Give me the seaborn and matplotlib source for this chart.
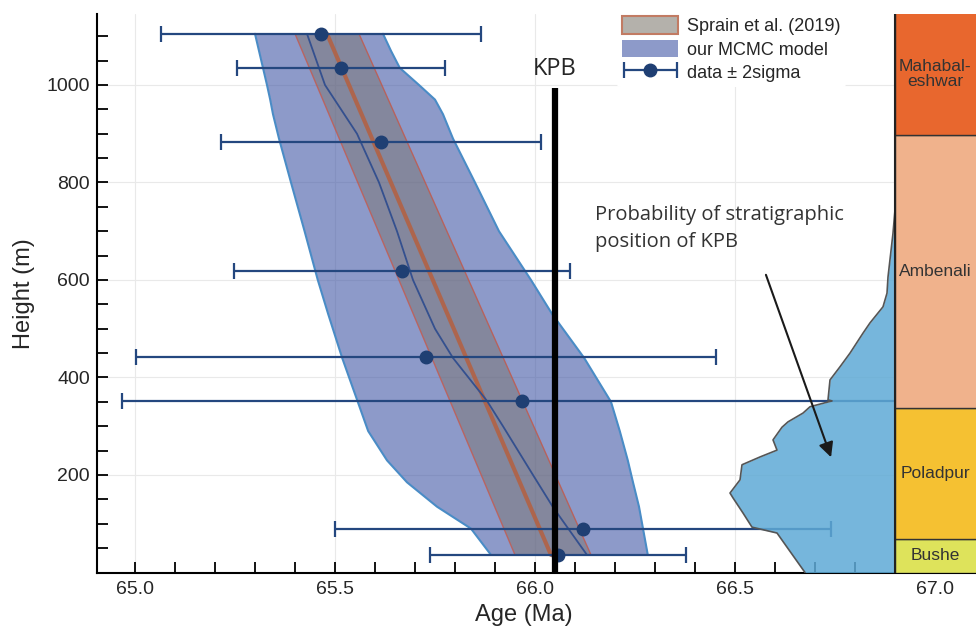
import numpy as np
import pandas as pd
import matplotlib
matplotlib.use("Agg")
import matplotlib.pyplot as plt
import seaborn as sns
from matplotlib.patches import Patch
from matplotlib.ticker import MultipleLocator
from matplotlib.container import ErrorbarContainer
from matplotlib.legend_handler import HandlerErrorbar

# ---------------- data ----------------
data_height = [1105, 1035, 883, 618, 442, 352, 89, 36]
data_age = [65.465, 65.515, 65.615, 65.667, 65.727, 65.967, 66.120, 66.057]
data_err2s = [0.40, 0.26, 0.40, 0.42, 0.725, 1.00, 0.62, 0.32]

sprain_height = [36, 1105]
sprain_mid = [66.04, 65.48]
sprain_lo = [65.95, 65.40]
sprain_hi = [66.14, 65.56]

mcmc_height = [36, 90, 135, 185, 230, 290, 350, 440, 530, 600, 700, 800, 890, 940, 970, 1000, 1035, 1070, 1105]
mcmc_lo = [65.89, 65.84, 65.755, 65.68, 65.63, 65.583, 65.557, 65.518, 65.483, 65.457,
           65.424, 65.39, 65.36, 65.345, 65.338, 65.33, 65.32, 65.31, 65.30]
mcmc_hi = [66.282, 66.27, 66.26, 66.245, 66.232, 66.212, 66.19, 66.123, 66.043, 65.99,
           65.91, 65.85, 65.795, 65.77, 65.75, 65.71, 65.662, 65.64, 65.62]
mcmc_median_height = [36, 134, 200, 300, 352, 440, 500, 600, 700, 800, 900, 1000, 1105]
mcmc_median = [66.13, 66.045, 65.995, 65.92, 65.88, 65.795, 65.75, 65.695, 65.655,
               65.61, 65.555, 65.475, 65.43]

prob_height = [0, 52, 81, 93, 122, 153, 163, 190, 221, 237, 251, 272, 298, 309, 327,
               340, 352, 354, 395, 422, 450, 491, 512, 545, 573, 606, 696, 744]
prob_left = [66.675, 66.63, 66.605, 66.5425, 66.52, 66.495, 66.4875, 66.5125, 66.5175,
             66.5625, 66.605, 66.595, 66.6175, 66.6325, 66.67, 66.6875, 66.7425, 66.7325,
             66.7375, 66.7625, 66.7875, 66.82, 66.8375, 66.87, 66.88, 66.8825, 66.895, 66.9]
prob_base = 66.9

form_names = ["Bushe", "Poladpur", "Ambenali", "Mahabal-\neshwar"]
form_bottom = [0, 68, 337, 897]
form_top = [68, 337, 897, 1150]
form_colors = ["#DEE35B", "#F5C132", "#F0B28C", "#E8672E"]

kpb_age = 66.05
kpb_top = 993

x_ticks = [65.0, 65.5, 66.0, 66.5, 67.0]
y_ticks = [200, 400, 600, 800, 1000]

# ---------------- style ----------------
sns.set_theme(style="ticks")
plt.rcParams["font.family"] = ["Liberation Sans", "DejaVu Sans"]

fig = plt.figure(figsize=(9.76, 6.27), dpi=100)
ax = fig.add_axes([97 / 976, 1 - 572.5 / 627, 1 - 97 / 976, (572.5 - 14.3) / 627])
ax.set_xlim(64.905, 67.1025)
ax.set_ylim(0, 1145)

ax.grid(True, which="major", color="#E9E9E9", lw=0.8)
ax.set_axisbelow(True)


def vline(xs, ys, **kw):
    sns.lineplot(x=xs, y=ys, sort=False, estimator=None, orient="y", ax=ax, **kw)


# MCMC band
ax.fill_betweenx(mcmc_height, mcmc_lo, mcmc_hi, color="#4157A5", alpha=0.6, lw=0, zorder=2)
vline(mcmc_lo, mcmc_height, color="#4A8CC6", lw=1.5, zorder=2.5)
vline(mcmc_hi, mcmc_height, color="#4A8CC6", lw=1.5, zorder=2.5)

# Sprain band
ax.fill_betweenx(sprain_height, sprain_lo, sprain_hi, color="#7A7068", alpha=0.45, lw=0, zorder=3)
vline(sprain_lo, sprain_height, color="#C4584A", lw=1.0, alpha=0.8, zorder=3.2)
vline(sprain_hi, sprain_height, color="#C4584A", lw=1.0, alpha=0.8, zorder=3.2)
vline(sprain_mid, sprain_height, color="#B5603F", lw=3.0, alpha=0.85, zorder=3.3)

# MCMC median
vline(mcmc_median, mcmc_median_height, color="#34508F", lw=1.3, zorder=4)

# data with error bars
eb = ax.errorbar(data_age, data_height, xerr=data_err2s, fmt="o", color="#1F3F73", ms=9,
                 ecolor="#24477F", elinewidth=1.6, capsize=6, capthick=1.6, zorder=5)

# probability of KPB position
ax.fill_betweenx(prob_height, prob_left, prob_base, color="#5EAAD6", alpha=0.85, lw=0, zorder=7)
vline(prob_left, prob_height, color="#555555", lw=1.2, zorder=7.5)

# KPB line
ax.plot([kpb_age, kpb_age], [0, kpb_top], color="black", lw=4.5, zorder=6, solid_capstyle="butt")
ax.text(kpb_age, 1033, "KPB", ha="center", va="center", fontsize=17,
        family=["Open Sans", "DejaVu Sans"], zorder=9)

# formation column
heights = [t - b for b, t in zip(form_bottom, form_top)]
ax.barh(y=form_bottom, width=0.3, left=prob_base, height=heights, align="edge",
        color=form_colors, edgecolor="#333333", lw=1.0, zorder=8)
ax.plot([prob_base, prob_base], [0, 1150], color="#222222", lw=1.5, zorder=8.5)
for name, b, t in zip(form_names, form_bottom, form_top):
    ax.text(67.0, (b + t) / 2, name, ha="center", va="center", fontsize=12.5,
            color="#333333", zorder=9, linespacing=1.0)

# annotation
ax.text(66.15, 754, "Probability of stratigraphic\nposition of KPB", ha="left", va="top",
        fontsize=14.5, color="#333333", family=["Open Sans", "DejaVu Sans"],
        linespacing=1.45, zorder=9)
ax.annotate("", xy=(66.7425, 231), xytext=(66.575, 616),
            arrowprops=dict(arrowstyle="-|>", color="#1a1a1a", lw=1.5, mutation_scale=22),
            zorder=9)

# axes styling
ax.set_xticks(x_ticks)
ax.set_xticklabels([f"{v:.1f}" for v in x_ticks])
ax.set_yticks(y_ticks)
ax.xaxis.set_minor_locator(MultipleLocator(0.1))
ax.yaxis.set_minor_locator(MultipleLocator(50))
ax.tick_params(axis="both", which="both", direction="in", length=8, width=1.3, color="black")
ax.tick_params(axis="x", which="major", pad=6, labelsize=14)
ax.tick_params(axis="y", which="major", pad=5, labelsize=14)
sns.despine(ax=ax, top=True, right=True)
for s in ["left", "bottom"]:
    ax.spines[s].set_linewidth(1.5)
    ax.spines[s].set_color("black")

ax.set_ylabel("Height (m)", fontsize=17)
ax.yaxis.set_label_coords(-0.07, 0.5)
ax.set_xlabel("Age (Ma)", fontsize=17)
ax.xaxis.set_label_coords(0.485, -0.056)

handles = [
    Patch(facecolor="#B4B1AB", edgecolor="#C27B63", lw=1.5),
    Patch(facecolor="#8D9AC9", edgecolor="none"),
    eb,
]
labels = ["Sprain et al. (2019)", "our MCMC model", "data \u00b1 2sigma"]
leg = ax.legend(handles, labels, loc="upper left", bbox_to_anchor=(608 / 976, 1 - 2 / 627),
                bbox_transform=fig.transFigure, fontsize=13, handlelength=3.1,
                handleheight=1.1, frameon=True, framealpha=1, facecolor="white",
                edgecolor="none", borderpad=0.3, labelspacing=0.25, handletextpad=0.5,
                handler_map={ErrorbarContainer: HandlerErrorbar(xerr_size=1.45)})
leg.set_zorder(10)

fig.savefig("out.png", dpi=100)
